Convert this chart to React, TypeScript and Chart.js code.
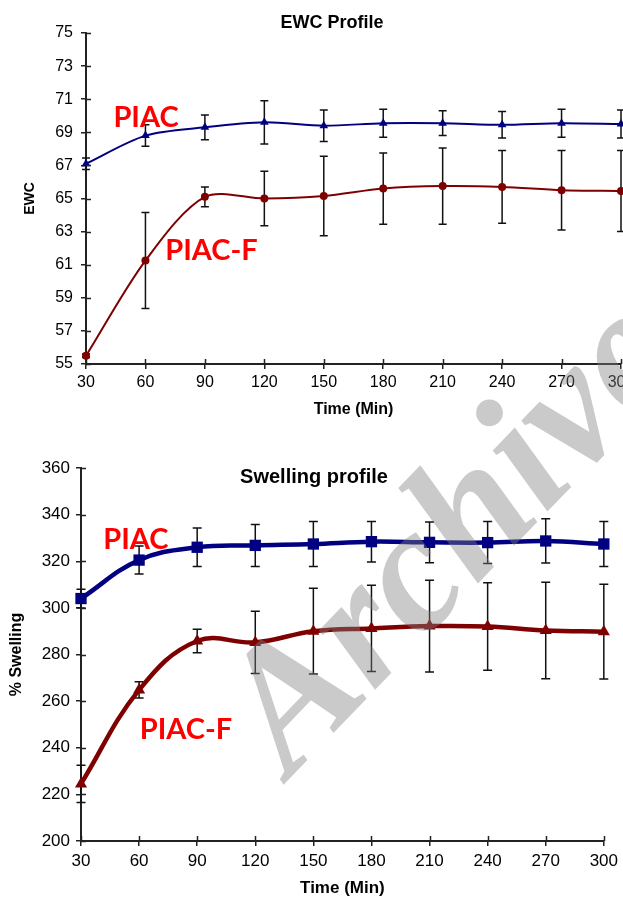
import React, { useEffect, useRef } from "react";
import { Chart, registerables } from "chart.js";

Chart.register(...registerables);

// ---------- data ----------
const timeMin = [30, 60, 90, 120, 150, 180, 210, 240, 270, 300];

const ewcPiac = [67.1, 68.8, 69.3, 69.6, 69.4, 69.55, 69.55, 69.45, 69.55, 69.5];
const ewcPiacErr = [0.35, 0.65, 0.75, 1.3, 0.95, 0.85, 0.75, 0.8, 0.85, 0.85];
const ewcPiacF = [55.5, 61.25, 65.1, 65.0, 65.15, 65.6, 65.75, 65.7, 65.5, 65.45];
const ewcPiacFErr = [0.1, 2.9, 0.6, 1.65, 2.4, 2.15, 2.3, 2.2, 2.4, 2.45];

const swPiac = [304, 320.5, 326, 326.8, 327.4, 328.4, 328.1, 328, 328.7, 327.4];
const swPiacErr = [4, 6, 8.3, 9, 9.7, 8.7, 8.7, 9, 9.5, 9.6];
const swPiacF = [224.5, 264.8, 285.8, 285.2, 290, 291.2, 292.2, 292, 290.3, 289.8];
const swPiacFErr = [8, 3.5, 5, 13.4, 18.4, 18.5, 19.7, 18.8, 20.7, 20.3];

const ewcTicks = { min: 55, max: 75, step: 2 };
const swTicks = { min: 200, max: 360, step: 20 };
const timeTicks = { min: 30, max: 300, step: 30 };

const seriesNames = ["PIAC", "PIAC-F"];

// ---------- plugins ----------
const errorBarsPlugin = {
  id: "errorBars",
  beforeDatasetsDraw(chart: any, _args: any, opts: any) {
    const { ctx } = chart;
    const ys = chart.scales.y;
    const xs = chart.scales.x;
    ctx.save();
    ctx.strokeStyle = opts.color || "#000";
    ctx.lineWidth = opts.width || 1.5;
    const cap = opts.cap || 4;
    chart.data.datasets.forEach((ds: any) => {
      const errs: number[] = ds.errors || [];
      ds.data.forEach((p: any, j: number) => {
        const e = errs[j];
        if (!e) return;
        const px = xs.getPixelForValue(p.x);
        const top = ys.getPixelForValue(p.y + e);
        const bot = ys.getPixelForValue(p.y - e);
        ctx.beginPath();
        ctx.moveTo(px, top);
        ctx.lineTo(px, bot);
        ctx.moveTo(px - cap, top);
        ctx.lineTo(px + cap, top);
        ctx.moveTo(px - cap, bot);
        ctx.lineTo(px + cap, bot);
        ctx.stroke();
      });
    });
    ctx.restore();
  },
};

const crossTicksPlugin = {
  id: "crossTicks",
  afterDraw(chart: any, _args: any, opts: any) {
    const { ctx, chartArea } = chart;
    const len = opts.length || 5;
    ctx.save();
    ctx.strokeStyle = opts.color || "#222";
    ctx.lineWidth = opts.width || 1.5;
    ctx.beginPath();
    chart.scales.x.ticks.forEach((t: any) => {
      const px = Math.round(chart.scales.x.getPixelForValue(t.value)) + 0.5;
      ctx.moveTo(px, chartArea.bottom);
      ctx.lineTo(px, chartArea.bottom - len);
    });
    chart.scales.y.ticks.forEach((t: any) => {
      const py = Math.round(chart.scales.y.getPixelForValue(t.value)) + 0.5;
      ctx.moveTo(chartArea.left, py);
      ctx.lineTo(chartArea.left + len, py);
    });
    ctx.stroke();
    ctx.restore();
  },
};

const textPlugin = {
  id: "texts",
  afterDraw(chart: any, _args: any, opts: any) {
    const { ctx } = chart;
    ctx.save();
    ctx.textAlign = "center";
    ctx.textBaseline = "middle";
    (opts.items || []).forEach((it: any) => {
      let x = it.x;
      let y = it.y;
      if (it.data) {
        x = chart.scales.x.getPixelForValue(it.x);
        y = chart.scales.y.getPixelForValue(it.y);
      }
      ctx.font = it.font;
      ctx.fillStyle = it.color;
      ctx.fillText(it.text, x, y);
    });
    ctx.restore();
  },
};

const toPoints = (ys: number[]) => timeMin.map((x, i) => ({ x, y: ys[i] }));

function makeConfig(p: any): any {
  return {
    type: "line",
    data: {
      datasets: [
        {
          label: seriesNames[0],
          data: toPoints(p.a),
          errors: p.aErr,
          borderColor: "#000080",
          backgroundColor: "#000080",
          borderWidth: p.lineWidth,
          pointStyle: p.aStyle,
          pointRadius: p.aRadius,
          pointBorderWidth: 0,
          tension: p.tension,
          clip: false,
        },
        {
          label: seriesNames[1],
          data: toPoints(p.b),
          errors: p.bErr,
          borderColor: "#7f0000",
          backgroundColor: "#7f0000",
          borderWidth: p.lineWidth,
          pointStyle: p.bStyle,
          pointRadius: p.bRadius,
          pointBorderWidth: 0,
          tension: p.tension,
          clip: false,
        },
      ],
    },
    options: {
      responsive: false,
      animation: false,
      devicePixelRatio: 1,
      events: [],
      layout: { padding: p.padding },
      plugins: {
        legend: { display: false },
        tooltip: { enabled: false },
        title: { display: false },
        errorBars: { color: "#111", width: 1.5, cap: p.cap },
        crossTicks: { length: 5, color: "#222", width: 1.5 },
        texts: { items: p.texts },
      },
      scales: {
        x: {
          type: "linear",
          min: timeTicks.min,
          max: timeTicks.max,
          ticks: {
            stepSize: timeTicks.step,
            color: "#000",
            padding: p.xPad,
            maxRotation: 0,
            font: { family: "'Liberation Sans', Arial", size: p.tickSize },
          },
          grid: { display: true, drawOnChartArea: false, tickLength: 5, color: "#222", lineWidth: 1.5 },
          border: { display: true, color: "#222", width: 2 },
          title: {
            display: true,
            text: "Time (Min)",
            color: "#000",
            font: { family: "'Liberation Sans', Arial", size: p.xTitleSize, weight: "bold" },
            padding: { top: 0, bottom: p.xTitlePad },
          },
          afterFit: (s: any) => {
            s.height = p.xHeight;
          },
        },
        y: {
          type: "linear",
          min: p.yt.min,
          max: p.yt.max,
          ticks: {
            stepSize: p.yt.step,
            color: "#000",
            padding: p.yPad,
            font: { family: "'Liberation Sans', Arial", size: p.tickSize },
          },
          grid: { display: true, drawOnChartArea: false, tickLength: 5, color: "#222", lineWidth: 1.5 },
          border: { display: true, color: "#222", width: 2 },
          title: {
            display: true,
            text: p.yTitle,
            color: "#000",
            font: { family: "'Liberation Sans', Arial", size: p.yTitleSize, weight: "bold" },
            padding: { top: p.yTitlePad, bottom: 0 },
          },
          afterFit: (s: any) => {
            s.width = p.yWidth;
          },
        },
      },
    },
    plugins: [errorBarsPlugin, crossTicksPlugin, textPlugin],
  };
}

const labelFont = "bold 29px Lato, 'Open Sans', sans-serif";

export default function App() {
  const topRef = useRef<HTMLCanvasElement>(null);
  const botRef = useRef<HTMLCanvasElement>(null);
  const wmRef = useRef<HTMLCanvasElement>(null);

  useEffect(() => {
    const c1 = new Chart(
      topRef.current as HTMLCanvasElement,
      makeConfig({
        a: ewcPiac,
        aErr: ewcPiacErr,
        b: ewcPiacF,
        bErr: ewcPiacFErr,
        aStyle: "triangle",
        aRadius: 5,
        bStyle: "circle",
        bRadius: 4,
        lineWidth: 2,
        tension: 0.3,
        cap: 4,
        padding: { top: 33, left: 0, right: 29, bottom: 0 },
        yt: ewcTicks,
        tickSize: 16,
        xPad: 4,
        yPad: 8,
        xHeight: 66,
        yWidth: 86,
        xTitleSize: 16,
        xTitlePad: 11,
        yTitle: "EWC",
        yTitleSize: 14,
        yTitlePad: 22,
        texts: [
          { text: "EWC Profile", x: 332, y: 23, font: "bold 18px 'Liberation Sans', Arial", color: "#000" },
          { text: seriesNames[0], x: 60.3, y: 69.9, data: true, font: labelFont, color: "#ff0000" },
          { text: seriesNames[1], x: 93.3, y: 61.85, data: true, font: labelFont, color: "#ff0000" },
        ],
      })
    );
    const c2 = new Chart(
      botRef.current as HTMLCanvasElement,
      makeConfig({
        a: swPiac,
        aErr: swPiacErr,
        b: swPiacF,
        bErr: swPiacFErr,
        aStyle: "rect",
        aRadius: 8,
        bStyle: "triangle",
        bRadius: 7,
        lineWidth: 4.5,
        tension: 0.4,
        cap: 4.5,
        padding: { top: 28, left: 0, right: 16, bottom: 0 },
        yt: swTicks,
        tickSize: 17,
        xPad: 5,
        yPad: 6,
        xHeight: 58,
        yWidth: 81,
        xTitleSize: 17,
        xTitlePad: 0,
        yTitle: "% Swelling",
        yTitleSize: 16,
        yTitlePad: 7,
        texts: [
          { text: "Swelling profile", x: 314, y: 37, font: "bold 20px 'Liberation Sans', Arial", color: "#000" },
          { text: seriesNames[0], x: 58.3, y: 329.1, data: true, font: labelFont, color: "#ff0000" },
          { text: seriesNames[1], x: 84.2, y: 247.6, data: true, font: labelFont, color: "#ff0000" },
        ],
      })
    );

    const wm = wmRef.current as HTMLCanvasElement;
    const ctx = wm.getContext("2d");
    if (ctx) {
      ctx.clearRect(0, 0, wm.width, wm.height);
      ctx.save();
      ctx.translate(290, 778);
      ctx.rotate((-46 * Math.PI) / 180);
      ctx.font = "italic bold 178px 'Liberation Serif', 'DejaVu Serif', serif";
      ctx.fillStyle = "rgba(128,128,128,0.42)";
      ctx.textBaseline = "alphabetic";
      ctx.fillText("Archive", 0, 0);
      ctx.restore();
    }

    return () => {
      c1.destroy();
      c2.destroy();
    };
  }, []);

  return (
    <div
      style={{
        position: "fixed",
        left: 0,
        top: 0,
        width: 623,
        height: 899,
        overflow: "hidden",
        background: "#fff",
      }}
    >
      <canvas
        ref={topRef}
        width={650}
        height={430}
        style={{ position: "absolute", left: 0, top: 0, width: 650, height: 430 }}
      />
      <canvas
        ref={botRef}
        width={623}
        height={459}
        style={{ position: "absolute", left: 0, top: 440, width: 623, height: 459 }}
      />
      <canvas
        ref={wmRef}
        width={623}
        height={899}
        style={{ position: "absolute", left: 0, top: 0, width: 623, height: 899, pointerEvents: "none" }}
      />
    </div>
  );
}
